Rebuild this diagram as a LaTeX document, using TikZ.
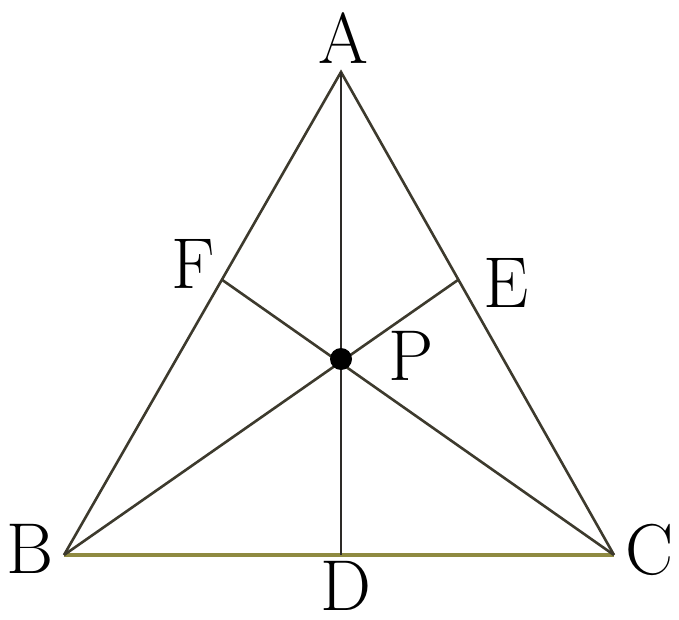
\documentclass[tikz,border=0pt]{standalone}
\usepackage{tikz}
\usetikzlibrary{calc}

\begin{document}
\begin{tikzpicture}[
        x=0.5pt, y=-0.5pt,
        edge/.style={line width=1.3pt, draw=black!75!olive},
        base/.style={line width=1.6pt, draw=olive!55!gray},
        lbl/.style={font=\fontsize{36}{40}\selectfont, inner sep=0pt}
    ]
        \useasboundingbox (0,0) rectangle (679,620);
        % Vertices
        \coordinate (A) at (341,72);
        \coordinate (B) at (64,555);
        \coordinate (C) at (614,555);
        \coordinate (D) at (341,555);
        \coordinate (F) at ($(A)!0.43!(B)$);
        \coordinate (E) at ($(A)!0.43!(C)$);
        \coordinate (P) at (341,359);
        % Triangle sides
        \draw[edge] (B) -- (A) -- (C);
        \draw[base] (B) -- (C);
        % Cevians
        \draw[edge, draw=black!90!olive] (A) -- (D);
        \draw[edge] (B) -- (E);
        \draw[edge] (C) -- (F);
        \fill[black] (P) circle (11);
        % Labels
        \node[lbl] (la) at (343,38) {A};
        \node[lbl] (lb) at (30,549) {B};
        \node[lbl] (lc) at (650,550) {C};
        \node[lbl] (ld) at (346,586) {D};
        \node[lbl] (le) at (506,283) {E};
        \node[lbl] (lf) at (193,264) {F};
        \node[lbl] (lp) at (411,356) {P};
    \end{tikzpicture}
\end{document}
